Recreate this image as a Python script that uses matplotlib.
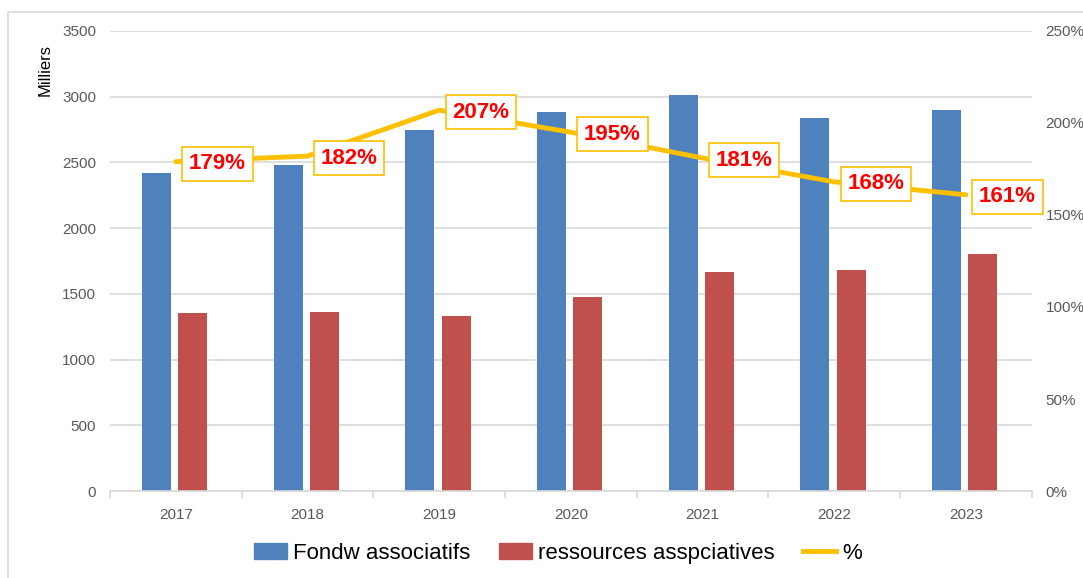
import numpy as np
import matplotlib.pyplot as plt
from matplotlib.lines import Line2D
from matplotlib.patches import Patch, Rectangle
from matplotlib.ticker import FuncFormatter, FixedLocator

plt.rcParams['font.family'] = ['Liberation Sans', 'DejaVu Sans']

# data
years = ['2017', '2018', '2019', '2020', '2021', '2022', '2023']
fonds = [2420, 2481, 2747, 2884, 3013, 2838, 2899]
ressources = [1355, 1362, 1332, 1476, 1666, 1682, 1803]
ratio = [1.79, 1.82, 2.07, 1.95, 1.81, 1.68, 1.61]

blue = '#4F81BD'
red = '#C0504D'
gold = '#FFC000'
grey_txt = '#595959'

fig = plt.figure(figsize=(10.83, 5.78), dpi=100)
ax = fig.add_axes([0.1016, 0.1505, 0.851, 0.7959])

# outer chart border (Excel style)
fig.patches.append(Rectangle((8 / 1083, -0.01), 1.2, 1 - 12 / 578 + 0.01,
                             transform=fig.transFigure, fill=False,
                             edgecolor='#d9d9d9', lw=1.2))

x = np.arange(len(years))
w = 0.22
ax.bar(x - 0.148, fonds, w, color=blue, zorder=2)
ax.bar(x + 0.13, ressources, w, color=red, zorder=2)

ax.set_ylim(0, 3500)
ax.set_xlim(-0.5, len(years) - 0.5)
ax.set_yticks(np.arange(0, 3501, 500))
ax.yaxis.grid(True, color='#d9d9d9', lw=1.2, zorder=0)
ax.set_axisbelow(True)
for s in ['top', 'right', 'left']:
    ax.spines[s].set_visible(False)
ax.spines['bottom'].set_color('#d9d9d9')
ax.spines['bottom'].set_linewidth(1.2)
ax.tick_params(axis='y', length=0, labelsize=11, labelcolor=grey_txt, pad=10)
ax.set_xticks(x)
ax.set_xticklabels(years)
ax.tick_params(axis='x', which='major', length=0, labelsize=11, labelcolor=grey_txt, pad=12)
ax.xaxis.set_minor_locator(FixedLocator(np.arange(-0.5, len(years), 1)))
ax.tick_params(axis='x', which='minor', length=5, color='#d9d9d9', width=1.2)
ax.set_ylabel('Milliers', fontsize=12, color='black')
ax.yaxis.set_label_coords(-0.062, 0.915)

ax2 = ax.twinx()
ax2.plot(x, ratio, color=gold, lw=3.5, solid_capstyle='round', zorder=3)
ax2.set_ylim(0, 2.5)
ax2.set_yticks(np.arange(0, 2.51, 0.5))
ax2.yaxis.set_major_formatter(FuncFormatter(lambda v, p: f'{v * 100:.0f}%'))
ax2.tick_params(axis='y', length=0, labelsize=11, labelcolor=grey_txt, pad=10)
for s in ax2.spines.values():
    s.set_visible(False)

for xi, r in zip(x, ratio):
    ax2.annotate(f'{r * 100:.0f}%', (xi, r), xytext=(30, -1.5), textcoords='offset points',
                 ha='center', va='center', fontsize=16, fontweight='bold', color='#FF0000',
                 bbox=dict(boxstyle='square,pad=0.3', fc='white', ec=gold, lw=1.2),
                 zorder=5)

handles = [Patch(color=blue, label='Fondw associatifs'),
           Patch(color=red, label='ressources asspciatives'),
           Line2D([0], [0], color=gold, lw=3.5, label='%')]
fig.legend(handles=handles, loc='center', bbox_to_anchor=(0.515, 0.043), ncol=3,
           frameon=False, fontsize=16, handlelength=1.5, handleheight=0.7,
           handletextpad=0.25, columnspacing=1.3)

fig.savefig('out.png', dpi=100)
